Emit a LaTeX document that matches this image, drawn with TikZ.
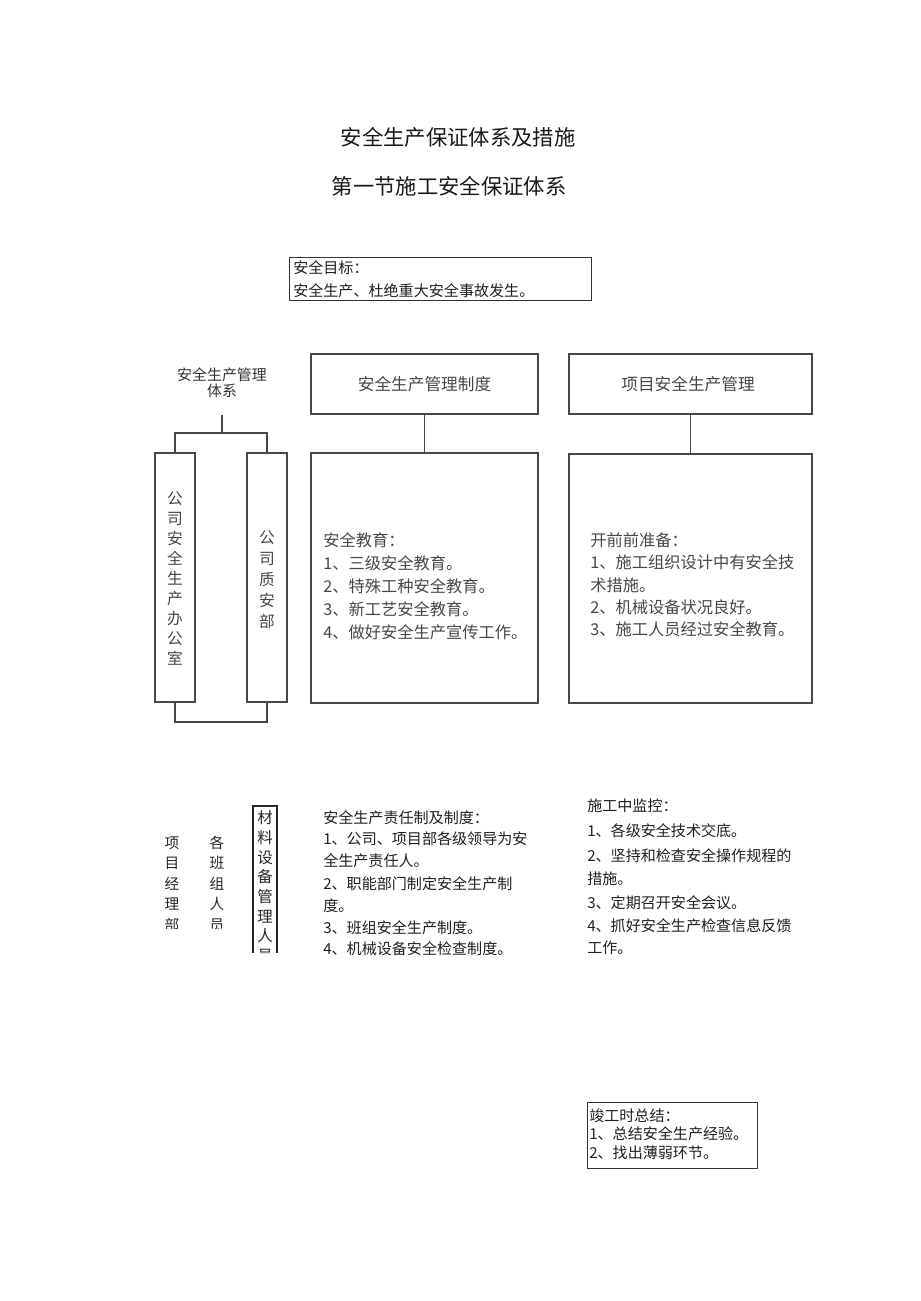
\documentclass[tikz,border=0pt]{standalone}
\usepackage{fontspec}
\newfontfamily\cjk{Noto Sans CJK SC}
\usetikzlibrary{fit}
\begin{document}
\begin{tikzpicture}[x=0.75pt,y=-0.75pt,
  box/.style={draw=black!72, line width=1.2pt, inner sep=0pt, fit={#1}},
  thinbox/.style={draw=black!80, line width=0.7pt, inner sep=0pt, fit={#1}},
  conn/.style={draw=black!72, line width=1.2pt},
  txt/.style={anchor=base west, inner sep=0pt, text=black!88, font=\cjk\fontsize{11.3}{13}\selectfont},
  gtxt/.style={anchor=base west, inner sep=0pt, text=black!72, font=\cjk\fontsize{12.2}{14}\selectfont},
  ctitle/.style={anchor=base, inner sep=0pt, text=black!72, font=\cjk\fontsize{12.5}{14}\selectfont},
  vch/.style={anchor=base, inner sep=0pt, text=black!72, font=\cjk\fontsize{11.8}{13}\selectfont},
  vbl/.style={anchor=base, inner sep=0pt, text=black!85, font=\cjk\fontsize{11}{13}\selectfont},
  title/.style={anchor=base, inner sep=0pt, text=black!90, font=\cjk\fontsize{16}{18}\selectfont}]
\useasboundingbox (0,0) rectangle (920,1301);

% titles
\node[title] (t1) at (458,146) {安全生产保证体系及措施};
\node[title] (t2) at (449,195) {第一节施工安全保证体系};

% goal box
\node[thinbox={(289,257) (591,300)}] (goal) {};
\node[txt] (g1) at (293,274) {安全目标：};
\node[txt] (g2) at (293,297) {安全生产、杜绝重大安全事故发生。};

% left system
\node[anchor=base, inner sep=0pt, text=black!80, font=\cjk\fontsize{11.2}{13}\selectfont] (sys1) at (222,380) {安全生产管理};
\node[anchor=base, inner sep=0pt, text=black!80, font=\cjk\fontsize{11.2}{13}\selectfont] (sys2) at (222,397) {体系};
\node[box={(155,453) (195,702)}] (office) {};
\node[box={(247,453) (287,702)}] (qa) {};
\coordinate (jt) at (222,415);
\coordinate (jm) at (222,433);
\coordinate (jb) at (222,722);
\draw[conn] (jt) -- (jm);
\draw[conn] (office.north) |- (jm) -| (qa.north);
\draw[conn] (office.south) |- (jb) -| (qa.south);
\foreach \c [count=\i] in {公,司,安,全,生,产,办,公,室}
  \node[vch] (oc\i) at (175,{499+20*(\i-1)+5.7}) {\c};
\foreach \c [count=\i] in {公,司,质,安,部}
  \node[vch] (qc\i) at (267,{538+21*(\i-1)+5.7}) {\c};

% middle column
\node[box={(311,354) (538,414)}] (rule) {};
\node[ctitle] (rulet) at (424.5,391) {安全生产管理制度};
\node[box={(311,453) (538,703)}] (edu) {};
\draw[conn] (rule.south) -- (edu.north);
\node[gtxt] (e0) at (323,546) {安全教育：};
\node[gtxt] (e1) at (323,569) {1、三级安全教育。};
\node[gtxt] (e2) at (323,592) {2、特殊工种安全教育。};
\node[gtxt] (e3) at (323,615) {3、新工艺安全教育。};
\node[gtxt] (e4) at (323,638) {4、做好安全生产宣传工作。};

% right column
\node[box={(569,354) (812,414)}] (proj) {};
\node[ctitle] (projt) at (688,391) {项目安全生产管理};
\node[box={(569,454) (812,703)}] (prep) {};
\draw[conn] (proj.south) -- (proj.south |- prep.north);
\node[gtxt] (p0) at (590,546) {开前前准备：};
\node[gtxt] (p1) at (590,568) {1、施工组织设计中有安全技};
\node[gtxt] (p2) at (590,591) {术措施。};
\node[gtxt] (p3) at (590,613) {2、机械设备状况良好。};
\node[gtxt] (p4) at (590,635) {3、施工人员经过安全教育。};

% bottom-left clipped vertical texts
\begin{scope}
  \clip (140,800) rectangle (240,928);
  \foreach \c [count=\i] in {项,目,经,理,部}
    \node[vbl] (pm\i) at (172,{843+20.5*(\i-1)+5.3}) {\c};
  \foreach \c [count=\i] in {各,班,组,人,员}
    \node[vbl] (tm\i) at (217,{843+20.5*(\i-1)+5.3}) {\c};
\end{scope}
\begin{scope}
  \clip (245,800) rectangle (285,953);
  \draw[draw=black!85, line width=0.8pt] (253,953) -- (253,806) -- (277,806) -- (277,953);
  \foreach \c [count=\i] in {材,料,设,备,管,理,人,员}
    \node[vbl, font=\cjk\fontsize{11.6}{13}\selectfont] (mm\i) at (265,{818+19.7*(\i-1)+5.6}) {\c};
\end{scope}

% bottom-middle text
\node[txt] (r0) at (323,823) {安全生产责任制及制度：};
\node[txt] (r1) at (323,844) {1、公司、项目部各级领导为安};
\node[txt] (r2) at (323,866) {全生产责任人。};
\node[txt] (r3) at (323,889) {2、职能部门制定安全生产制};
\node[txt] (r4) at (323,911) {度。};
\node[txt] (r5) at (323,933) {3、班组安全生产制度。};
\node[txt] (r6) at (323,954) {4、机械设备安全检查制度。};

% bottom-right text
\node[txt] (m0) at (587,811) {施工中监控：};
\node[txt] (m1) at (587,836) {1、各级安全技术交底。};
\node[txt] (m2) at (587,861) {2、坚持和检查安全操作规程的};
\node[txt] (m3) at (587,884) {措施。};
\node[txt] (m4) at (587,908) {3、定期召开安全会议。};
\node[txt] (m5) at (587,931) {4、抓好安全生产检查信息反馈};
\node[txt] (m6) at (587,953) {工作。};

% completion box
\node[thinbox={(587,1102) (757,1168)}] (done) {};
\node[txt] (d0) at (589,1121) {竣工时总结：};
\node[txt] (d1) at (589,1139) {1、总结安全生产经验。};
\node[txt] (d2) at (589,1158) {2、找出薄弱环节。};
\end{tikzpicture}
\end{document}
